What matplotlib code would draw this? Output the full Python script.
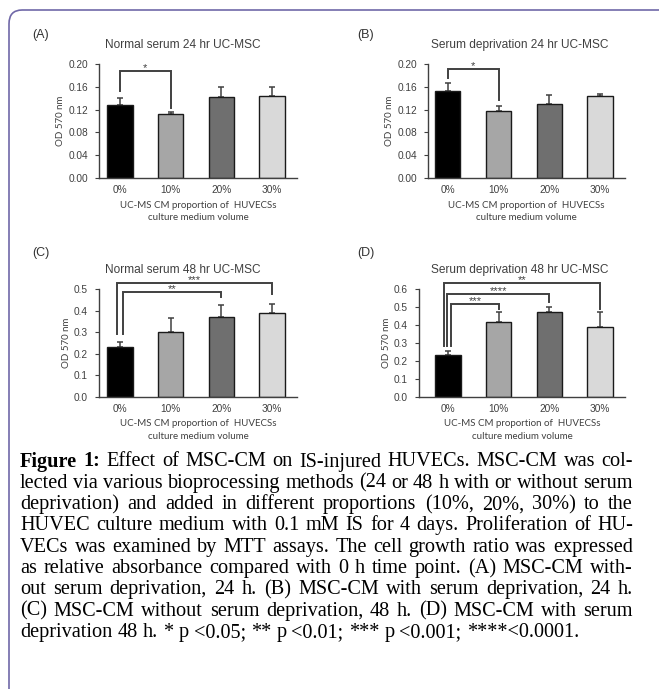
import numpy as np
import matplotlib
matplotlib.use("Agg")
import matplotlib.pyplot as plt
from matplotlib.patches import FancyBboxPatch

# ---- data ----
groups = ['0%', '10%', '20%', '30%']
bar_colors = ['#000000', '#a6a6a6', '#6f6f6f', '#d9d9d9']

a_vals = [0.128, 0.112, 0.142, 0.144]
a_err = [0.012, 0.003, 0.017, 0.015]
b_vals = [0.153, 0.118, 0.129, 0.143]
b_err = [0.013, 0.008, 0.016, 0.004]
c_vals = [0.233, 0.303, 0.370, 0.387]
c_err = [0.022, 0.065, 0.058, 0.042]
d_vals = [0.231, 0.416, 0.472, 0.387]
d_err = [0.024, 0.054, 0.028, 0.083]

a_title = 'Normal serum 24 hr UC-MSC'
b_title = 'Serum deprivation 24 hr UC-MSC'
c_title = 'Normal serum 48 hr UC-MSC'
d_title = 'Serum deprivation 48 hr UC-MSC'

a_ticks = [0.00, 0.04, 0.08, 0.12, 0.16, 0.20]
c_ticks = [0.0, 0.1, 0.2, 0.3, 0.4, 0.5]
d_ticks = [0.0, 0.1, 0.2, 0.3, 0.4, 0.5, 0.6]

# brackets: (i, j, line height, left leg bottom, right leg bottom, stars, left offset)
a_sig = [(0, 1, 0.188, 0.153, 0.123, '*', 0.0)]
b_sig = [(0, 1, 0.191, 0.175, 0.137, '*', 0.0)]
c_sig = [(0, 3, 0.529, 0.290, 0.475, '***', -0.06),
         (0, 2, 0.485, 0.290, 0.464, '**', 0.05)]
d_sig = [(0, 3, 0.632, 0.283, 0.487, '**', -0.07),
         (0, 2, 0.573, 0.283, 0.526, '****', -0.01),
         (0, 1, 0.517, 0.283, 0.487, '***', 0.07)]

xlabel = 'UC-MS CM proportion of  HUVECSs\nculture medium volume'
ylabel = 'OD 570 nm'

caption_lines = [
    'Effect of MSC-CM on IS-injured HUVECs. MSC-CM was col-',
    'lected via various bioprocessing methods (24 or 48 h with or without serum',
    'deprivation) and added in different proportions (10%, 20%, 30%) to the',
    'HUVEC culture medium with 0.1 mM IS for 4 days. Proliferation of HU-',
    'VECs was examined by MTT assays. The cell growth ratio was expressed',
    'as relative absorbance compared with 0 h time point. (A) MSC-CM with-',
    'out serum deprivation, 24 h. (B) MSC-CM with serum deprivation, 24 h.',
    '(C) MSC-CM without serum deprivation, 48 h. (D) MSC-CM with serum',
    'deprivation 48 h. * p <0.05; ** p <0.01; *** p <0.001; ****<0.0001.',
]

W, H = 659, 689
fig = plt.figure(figsize=(W / 100, H / 100), dpi=100)
GRAY = '#404040'


def px_axes(l, r, t, b):
    return fig.add_axes([l / W, 1 - b / H, (r - l) / W, (b - t) / H])


def panel(box, xlim, vals, err, ticks, fmt, title, sig, letter, letter_x, title_x):
    l, r, t, b = box
    ax = px_axes(l, r, t, b)
    x = np.arange(len(groups))
    ax.bar(x, vals, width=0.5, color=bar_colors, edgecolor='#1a1a1a', linewidth=1.0, zorder=2)
    ax.errorbar(x, vals, yerr=[np.zeros(len(err)), err], fmt='none', ecolor=GRAY,
                elinewidth=1.1, capsize=2.5, capthick=1.1, zorder=1)
    ax.set_xlim(*xlim)
    ax.set_ylim(ticks[0], ticks[-1])
    ax.set_yticks(ticks)
    ax.set_yticklabels([fmt.format(v) for v in ticks], fontsize=7.3, color=GRAY,
                       family='Liberation Sans')
    ax.set_xticks(x)
    ax.set_xticklabels(groups, fontsize=7.3, color=GRAY, family='Liberation Sans')
    ax.tick_params(axis='x', length=0, pad=5)
    ax.tick_params(axis='y', length=3, width=0.8, color=GRAY, pad=5)
    for s in ['top', 'right']:
        ax.spines[s].set_visible(False)
    for s in ['left', 'bottom']:
        ax.spines[s].set_color(GRAY)
        ax.spines[s].set_linewidth(1.0)
    ax.set_ylabel(ylabel, fontsize=7, color=GRAY, family='Lato', labelpad=2)
    ax.set_xlabel(xlabel, fontsize=7.0, color=GRAY, family='Lato', labelpad=4,
                  linespacing=1.55)
    for i, j, h, lb, rb, stars, off in sig:
        xi = x[i] + off
        ax.plot([xi, xi, x[j], x[j]], [lb, h, h, rb], color=GRAY, lw=1.4,
                clip_on=False, solid_joinstyle='miter', zorder=3)
        ax.text((xi + x[j]) / 2, h, stars, ha='center', va='baseline', fontsize=8,
                color=GRAY, family='Liberation Sans')
    fig.text(letter_x / W, 1 - 35 / H if t < 200 else 1 - 253 / H, letter,
             ha='left', va='center', fontsize=9, color='#333333',
             family='Liberation Sans')
    fig.text(title_x / W, 1 - (t - 19) / H, title, ha='center', va='center',
             fontsize=8.6, color=GRAY, family='Liberation Sans')
    return ax


panel((99, 297, 64, 178), (-0.414, 3.49), a_vals, a_err, a_ticks, '{:.2f}', a_title,
      a_sig, '(A)', 32, 183)
panel((428, 625, 64, 178), (-0.39, 3.49), b_vals, b_err, a_ticks, '{:.2f}', b_title,
      b_sig, '(B)', 357, 520)
panel((99, 297, 289, 397), (-0.414, 3.49), c_vals, c_err, c_ticks, '{:.1f}', c_title,
      c_sig, '(C)', 32, 183)
panel((419, 625, 289, 397), (-0.57, 3.49), d_vals, d_err, d_ticks, '{:.1f}', d_title,
      d_sig, '(D)', 357, 520)

# rounded frame around the figure
frame = FancyBboxPatch((9 / W, -0.1), 1.2, 1 - 10 / H + 0.1,
                       boxstyle='round,pad=0,rounding_size=0.02',
                       transform=fig.transFigure, fill=False,
                       edgecolor='#7068a8', linewidth=1.2)
fig.patches.append(frame)

# justified caption
left_px, right_px = 20, 633
base0, step = 466.5, 21.3
fig.canvas.draw()
renderer = fig.canvas.get_renderer()


def width_of(s, **kw):
    t = fig.text(0, 0, s, **kw)
    w = t.get_window_extent(renderer).width
    t.remove()
    return w


def line_items(n, font):
    items = [(w, font) for w in caption_lines[n].split(' ')]
    if n == 0:
        bold = dict(font, fontweight='bold')
        items = [('Figure', bold), ('1:', bold)] + items
    return items


# pick the font size so that the widest line just fits with normal spaces
size = 12.0
for _ in range(3):
    font = dict(family='Liberation Serif', fontsize=size, color='black')
    sp = width_of('a b', **font) - width_of('ab', **font)
    widest = max(sum(width_of(w, **f) for w, f in line_items(n, font)) + sp * (len(line_items(n, font)) - 1)
                 for n in range(len(caption_lines)))
    size = size * (right_px - left_px) / widest

cap_font = dict(family='Liberation Serif', fontsize=size, color='black')
space_w = width_of('a b', **cap_font) - width_of('ab', **cap_font)
for n in range(len(caption_lines)):
    y = 1 - (base0 + n * step) / H
    items = line_items(n, cap_font)
    widths = [width_of(w, **f) for w, f in items]
    total = sum(widths)
    if n < len(caption_lines) - 1:
        gap = (right_px - left_px - total) / (len(items) - 1)
    else:
        gap = space_w
    xpos = left_px
    for (w, f), ww in zip(items, widths):
        fig.text(xpos / W, y, w, ha='left', va='baseline', **f)
        xpos += ww + gap

fig.savefig('out.png', dpi=100)
